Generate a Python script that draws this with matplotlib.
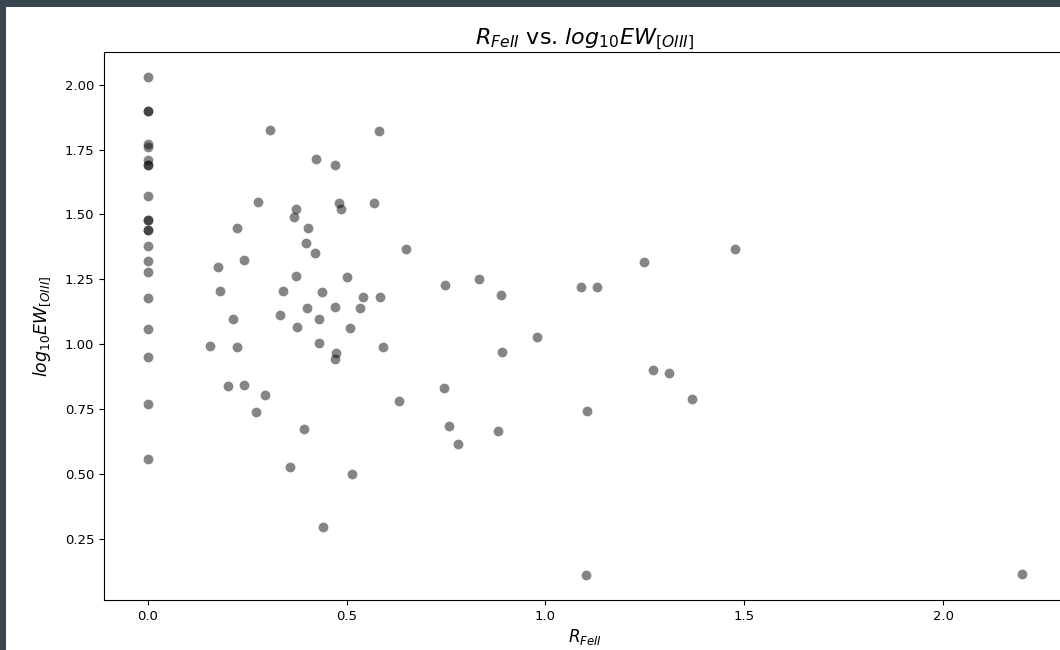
import matplotlib
matplotlib.use("Agg")
import matplotlib.pyplot as plt
from matplotlib.patches import Rectangle

# R_FeII values (x) and log10 EW[OIII] values (y)
r_zero = [0.0] * 21
ew_zero = [2.03, 1.90, 1.90, 1.77, 1.76, 1.71, 1.69, 1.69, 1.57, 1.48, 1.48,
           1.44, 1.44, 1.38, 1.32, 1.28, 1.18, 1.06, 0.95, 0.77, 0.56]

r_fe = [0.307, 0.582, 0.423, 0.470, 0.278, 0.372, 0.369, 0.481, 0.487, 0.570,
        0.224, 0.402, 0.398, 0.420, 0.650, 0.177, 0.242, 0.373, 0.502, 0.181,
        0.339, 0.437, 0.542, 0.585, 0.401, 0.471, 0.534, 0.214, 0.332, 0.430,
        0.376, 0.509, 0.156, 0.224, 0.430, 0.592, 0.473, 0.470, 0.203, 0.242,
        0.296, 0.271, 0.632, 0.394, 0.358, 0.513, 0.441, 0.748, 0.834, 0.889,
        1.090, 1.130, 1.249, 0.978, 0.892, 1.271, 1.311, 1.368, 0.744, 1.105,
        0.758, 0.780, 0.881, 1.477, 2.199, 1.101]
ew_oiii = [1.827, 1.821, 1.715, 1.689, 1.549, 1.521, 1.489, 1.544, 1.521, 1.543,
           1.449, 1.449, 1.389, 1.350, 1.366, 1.299, 1.326, 1.265, 1.260, 1.205,
           1.205, 1.200, 1.183, 1.183, 1.139, 1.144, 1.139, 1.099, 1.111, 1.099,
           1.066, 1.061, 0.993, 0.988, 1.005, 0.988, 0.965, 0.943, 0.839, 0.844,
           0.806, 0.739, 0.783, 0.672, 0.528, 0.500, 0.298, 1.227, 1.250, 1.188,
           1.222, 1.222, 1.316, 1.027, 0.971, 0.900, 0.888, 0.788, 0.833, 0.744,
           0.687, 0.615, 0.665, 1.366, 0.116, 0.111]

x = r_zero + r_fe
y = ew_zero + ew_oiii

W, H = 1060, 650
fig = plt.figure(figsize=(W / 100, H / 100), dpi=100)
fig.patch.set_facecolor("white")

# the screenshot is cropped: axes runs past the right edge
ax = fig.add_axes([104 / W, 50 / H, 962 / W, 548 / H])
ax.scatter(x, y, s=50, c="black", alpha=0.48, linewidths=0)

ax.set_title(r"$R_{FeII}$ vs. $log_{10}EW_{[OIII]}$", fontsize=16, pad=5)
ax.set_xlabel(r"$R_{FeII}$", fontsize=12, labelpad=3)
ax.set_ylabel(r"$log_{10}EW_{[OIII]}$", fontsize=12.5, labelpad=9)
ax.tick_params(labelsize=9.5)
ax.set_xticks([0.0, 0.5, 1.0, 1.5, 2.0])
ax.set_yticks([0.25, 0.5, 0.75, 1.0, 1.25, 1.5, 1.75, 2.0])

# dark notebook border on top and left
border = "#37474f"
fig.patches.append(Rectangle((0, 1 - 7 / H), 1, 7 / H, transform=fig.transFigure,
                             facecolor=border, edgecolor="none"))
fig.patches.append(Rectangle((0, 0), 6 / W, 1, transform=fig.transFigure,
                             facecolor=border, edgecolor="none"))

fig.savefig("out.png", dpi=100)
